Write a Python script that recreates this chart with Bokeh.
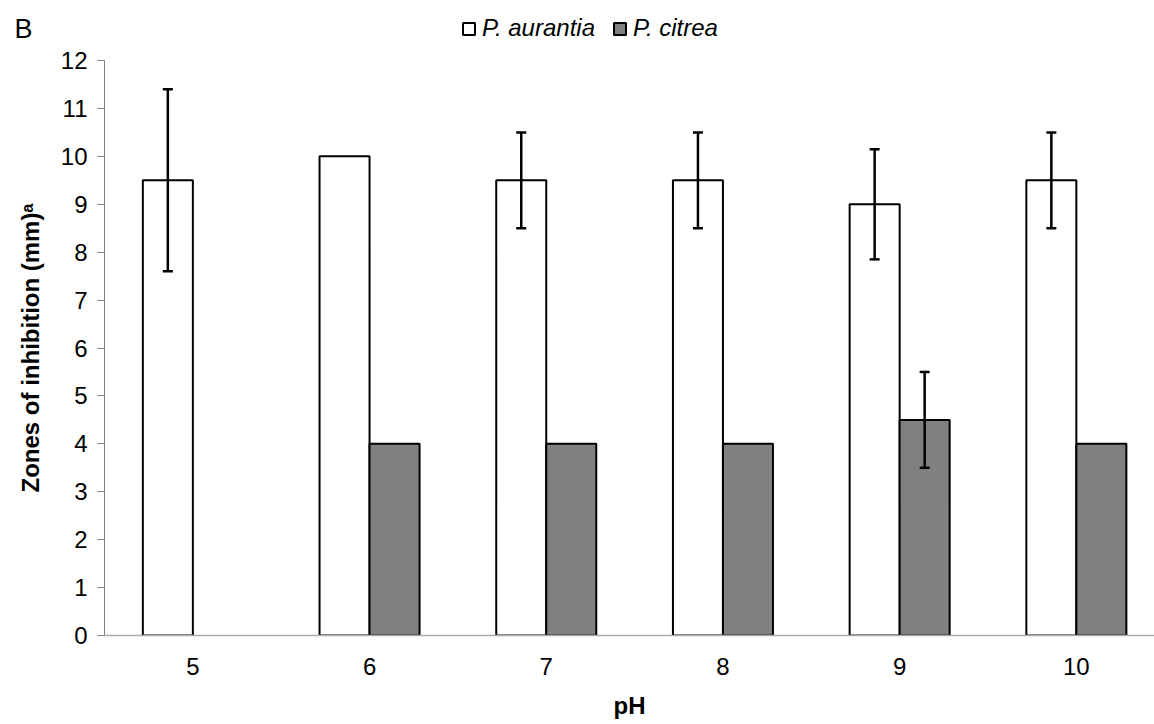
import numpy as np
from bokeh.plotting import figure
from bokeh.layouts import column
from bokeh.models import (ColumnDataSource, Whisker, TeeHead, Legend, LegendItem,
                          FixedTicker, Range1d, Label)
from bokeh.embed import file_html
from bokeh.resources import INLINE

ph = [5, 6, 7, 8, 9, 10]
aurantia = [9.5, 10.0, 9.5, 9.5, 9.0, 9.5]
aurantia_err = [1.9, np.nan, 1.0, 1.0, 1.15, 1.0]
citrea = [np.nan, 4.0, 4.0, 4.0, 4.5, 4.0]
citrea_err = [np.nan, np.nan, np.nan, np.nan, 1.0, np.nan]
yticks = list(range(0, 13))
series_names = ["P. aurantia", "P. citrea"]

BW = 0.283
FONT = "Liberation Sans"
W = 1154
HEAD_H = 48
MAIN_H = 724 - HEAD_H

STYLE_A = dict(fill_color="white", line_color="black", line_width=2)
STYLE_C = dict(fill_color="#808080", line_color="black", line_width=2)

ph_a = np.array(ph) - BW / 2
ph_c = np.array(ph) + BW / 2
a = np.array(aurantia); ae = np.array(aurantia_err)
c = np.array(citrea); ce = np.array(citrea_err)

src_a = ColumnDataSource(dict(x=ph_a, top=a, lo=a - ae, hi=a + ae))
src_c = ColumnDataSource(dict(x=ph_c, top=c, lo=c - ce, hi=c + ce))

# ---------- header (panel letter + legend) ----------
head = figure(width=W, height=HEAD_H, output_backend="svg", toolbar_location=None,
              x_range=Range1d(0, W), y_range=Range1d(0, HEAD_H),
              min_border=0, min_border_left=0, min_border_right=0,
              min_border_top=0, min_border_bottom=0)
head.frame_align = False
head.axis.visible = False
head.grid.visible = False
head.outline_line_color = None
head.title.visible = False
ha = head.vbar(x="x", top="top", bottom=0, width=BW, source=src_a, visible=False, **STYLE_A)
hc = head.vbar(x="x", top="top", bottom=0, width=BW, source=src_c, visible=False, **STYLE_C)
legend = Legend(items=[LegendItem(label=series_names[0], renderers=[ha]),
                       LegendItem(label=series_names[1], renderers=[hc])],
                orientation="horizontal", location=(461, 6),
                border_line_color=None, background_fill_alpha=0,
                label_text_font=FONT, label_text_font_style="italic",
                label_text_font_size="24px", label_text_color="black",
                glyph_width=15, glyph_height=15,
                label_standoff=6, spacing=17, padding=0, margin=0)
head.add_layout(legend, "center")
head.add_layout(Label(x=14, y=HEAD_H - 28, text="B", text_baseline="middle",
                      text_font=FONT, text_font_size="27px", text_color="black"))

# ---------- main chart ----------
p = figure(width=W, height=MAIN_H, output_backend="svg", toolbar_location=None,
           x_range=Range1d(4.5, 4.5 + (1154 - 104) / 176.7), y_range=Range1d(0, 12),
           min_border_left=104, min_border_right=0, min_border_top=12,
           min_border_bottom=89)
p.frame_align = False
p.title.visible = False
p.outline_line_color = None
p.grid.visible = False

p.vbar(x="x", top="top", bottom=0, width=BW, source=src_a, **STYLE_A)
p.vbar(x="x", top="top", bottom=0, width=BW, source=src_c, **STYLE_C)

for s in (src_a, src_c):
    w = Whisker(base="x", lower="lo", upper="hi", source=s, level="overlay",
                line_color="black", line_width=2.5,
                upper_head=TeeHead(size=10, line_color="black", line_width=2.5),
                lower_head=TeeHead(size=10, line_color="black", line_width=2.5))
    p.add_layout(w)

# Y axis
p.yaxis.ticker = FixedTicker(ticks=yticks)
p.yaxis.minor_tick_line_color = None
p.yaxis.major_tick_out = 7
p.yaxis.major_tick_in = 0
p.yaxis.axis_line_color = "#808080"
p.yaxis.major_tick_line_color = "#808080"
p.yaxis.major_label_text_font = FONT
p.yaxis.major_label_text_font_size = "24px"
p.yaxis.major_label_text_color = "black"
p.yaxis.major_label_standoff = 10
p.yaxis.axis_label = "Zones of inhibition (mm)\u1d43"
p.yaxis.axis_label_text_font = FONT
p.yaxis.axis_label_text_font_style = "bold"
p.yaxis.axis_label_text_font_size = "24px"
p.yaxis.axis_label_text_color = "black"
p.yaxis.axis_label_standoff = 14

# X axis
p.xaxis.ticker = FixedTicker(ticks=ph)
p.xaxis.minor_tick_line_color = None
p.xaxis.major_tick_out = 0
p.xaxis.major_tick_in = 0
p.xaxis.axis_line_color = "#aaaaaa"
p.xaxis.axis_line_width = 1.5
p.xaxis.major_label_text_font = FONT
p.xaxis.major_label_text_font_size = "24px"
p.xaxis.major_label_text_color = "black"
p.xaxis.major_label_standoff = 22
p.xaxis.axis_label = "pH"
p.xaxis.axis_label_text_font = FONT
p.xaxis.axis_label_text_font_style = "bold"
p.xaxis.axis_label_text_font_size = "24px"
p.xaxis.axis_label_text_color = "black"
p.xaxis.axis_label_standoff = 14

layout = column(head, p, spacing=0)
open("out.html", "w").write(file_html(layout, INLINE))
